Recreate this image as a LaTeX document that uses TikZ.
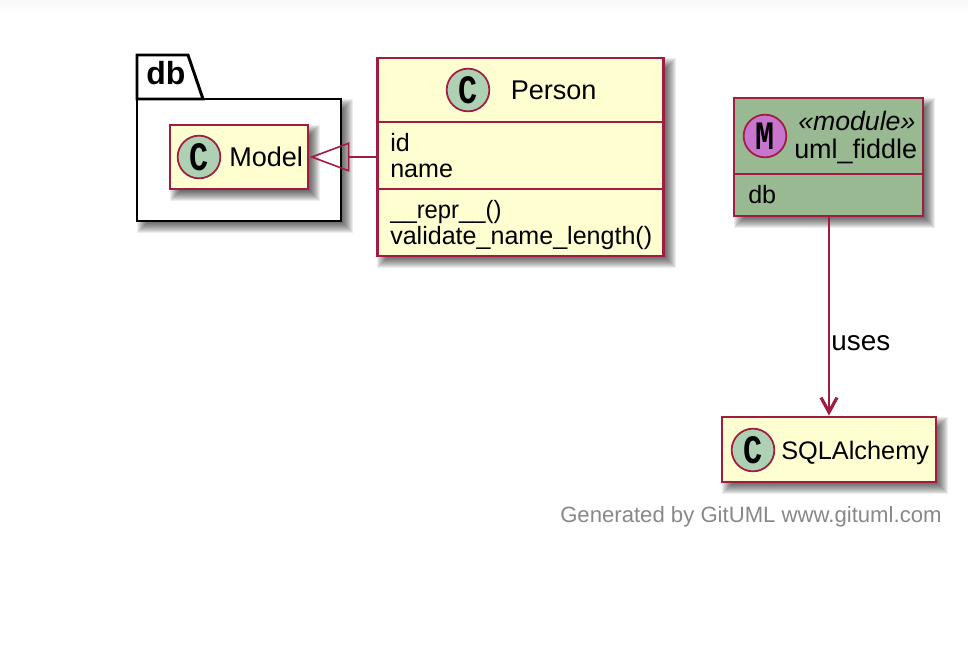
\documentclass[tikz,border=0pt]{standalone}
\usepackage{fontspec}
\setmainfont{Liberation Sans}
\newfontfamily\spotfont{Liberation Mono}
\usetikzlibrary{arrows.meta}
\definecolor{umlborder}{HTML}{A01C40}
\definecolor{umlfill}{HTML}{FEFED0}
\definecolor{modfill}{HTML}{99B993}
\definecolor{spotc}{HTML}{ADD1B2}
\definecolor{spotm}{HTML}{C875CE}
\definecolor{footgray}{HTML}{888888}
\definecolor{topgray}{HTML}{F8F8F8}
\tikzset{
softshadow/.style={fill=black,opacity=.07,draw=none},
classbox/.style={draw=umlborder,line width=2.2pt,fill=umlfill,rectangle,inner sep=0pt},
spot/.style={draw=umlborder,line width=1.3pt,circle,inner sep=0pt,minimum size=32pt,font=\spotfont\bfseries\fontsize{28}{28}\selectfont},
member/.style={anchor=base west,inner sep=0pt,font=\fontsize{18.8}{20}\selectfont},
title/.style={inner sep=0pt,anchor=base west,font=\fontsize{20.3}{22}\selectfont},
sepline/.style={draw=umlborder,line width=2.2pt}
}
% blurred shadow under a box, corners in pixels
\newcommand{\boxshadow}[4]{
\foreach \e in {-5,...,6}{
\fill[softshadow]({#1+6-\e},{#2+6-\e})rectangle({#3+6+\e},{#4+6+\e});
}}
\newcommand{\spotglyph}[1]{\scalebox{.85}[1.08]{#1}}
\begin{document}
\begin{tikzpicture}[x=0.75pt,y=-0.75pt]
\useasboundingbox (0,0) rectangle (968,654);
\shade[top color=topgray,bottom color=white,draw=none](0,0)rectangle(968,14);
% package
\boxshadow{137}{99}{341}{221}
\draw[draw=black,line width=2.2pt,fill=white](137,99)--(341,99)--(341,221)--(137,221)--cycle;
\draw[draw=black,line width=2.2pt,fill=white](137,99)--(137,55)--(188,55)--(203,99)--cycle;
\node[anchor=base west,inner sep=0pt,font=\bfseries\fontsize{24}{24}\selectfont](dblabel)at(146,84){db};
% classes
\boxshadow{170}{125}{308}{189}
\node[classbox,minimum width=103.5pt,minimum height=48pt](model)at(239,157){};
\node[spot,fill=spotc](modelspot)at(199,157){\spotglyph{C}};
\node[title](modeltext)at(229,166){Model};
\boxshadow{377}{58}{664}{256}
\node[classbox,minimum width=215pt,minimum height=148.5pt](person)at(520.5,157){};
\node[spot,fill=spotc](personspot)at(468,90){\spotglyph{C}};
\node[title](persontext)at(510.5,99){Person};
\draw[sepline](377,122)--(664,122);
\draw[sepline](377,189)--(664,189);
\node[member](personid)at(390,151){id};
\node[member](personname)at(390,177){name};
\node[member](personrepr)at(390,218){\scalebox{.95}[1]{\_\_repr\_\_()}};
\node[member](personvalid)at(390,244){validate\_name\_length()};
\boxshadow{734}{98}{923}{216}
\node[classbox,fill=modfill,minimum width=141.75pt,minimum height=88.5pt](module)at(828.5,157){};
\node[spot,fill=spotm](modulespot)at(765,136){\spotglyph{M}};
\node[anchor=base west,inner sep=0pt,font=\itshape\fontsize{20}{20}\selectfont](modulestereo)at(798,130){«module»};
\node[title,font=\fontsize{20.2}{22}\selectfont](moduletext)at(794,158){uml\_fiddle};
\draw[sepline](734,174)--(923,174);
\node[member](moduledb)at(748,203){db};
\boxshadow{722}{417}{936}{482}
\node[classbox,minimum width=160.5pt,minimum height=48.75pt](sqla)at(829,449.5){};
\node[spot,fill=spotc](sqlaspot)at(753,450){\spotglyph{C}};
\node[title,font=\fontsize{19}{22}\selectfont](sqlatext)at(781,459){SQLAlchemy};
% connectors
\draw[umlborder,line width=1.5pt,-{Triangle[open,length=30pt,width=22pt,line width=1.2pt]}](person)--(model);
\draw[umlborder,line width=1.5pt,-{Straight Barb[length=11pt,width=12pt,line width=2.4pt]}](sqla |- module.south)--(sqla)node[pos=0.635,right=0pt,inner sep=0pt,black,font=\fontsize{20.9}{22}\selectfont,xshift=1pt](useslabel){uses};
\node[anchor=base west,inner sep=0pt,text=footgray,font=\fontsize{16.6}{18}\selectfont](footer)at(560,522){Generated by GitUML www.gituml.com};
\end{tikzpicture}
\end{document}
